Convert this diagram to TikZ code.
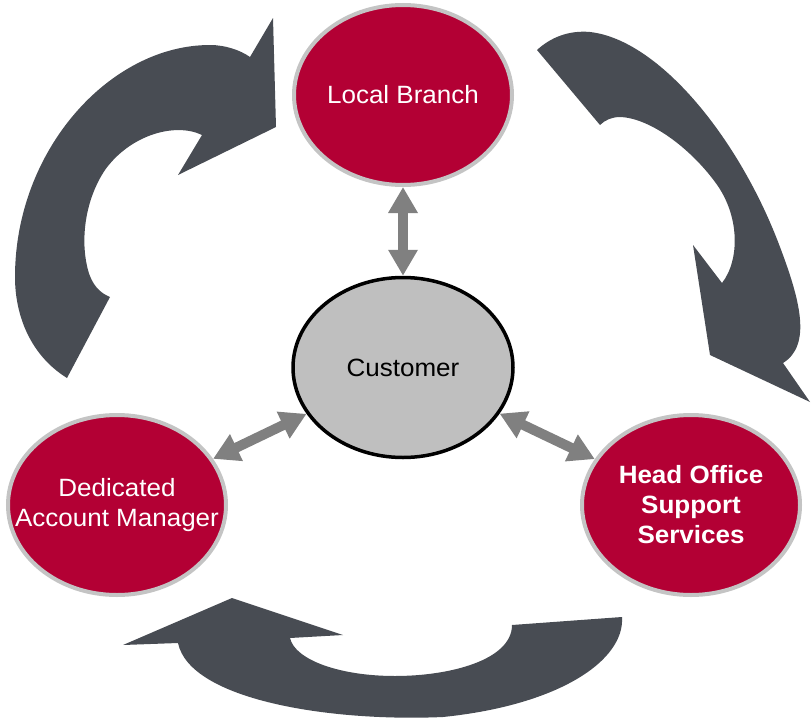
\documentclass[tikz,border=0pt]{standalone}
\usepackage{fontspec}
\setmainfont{Liberation Sans}[FakeStretch=1.04]
\usepackage{tikz}
\usetikzlibrary{shapes.geometric,arrows.meta}

\definecolor{ballred}{HTML}{B30034}
\definecolor{ballrim}{HTML}{C4C4C4}
\definecolor{custgray}{HTML}{BFBFBF}
\definecolor{cyclegray}{HTML}{484C53}
\definecolor{linkgray}{HTML}{808080}

\tikzset{
	redball/.style={ellipse, fill=ballred, draw=ballrim, line width=4pt,
		minimum width=218pt, minimum height=180pt, inner sep=0pt},
	custball/.style={ellipse, fill=custgray, draw=black, line width=3.5pt,
		minimum width=220pt, minimum height=180pt, inner sep=0pt},
	balltext/.style={text=white, align=center, font=\fontsize{25}{30}\selectfont},
	linkarrow/.style={draw=linkgray, line width=10pt,
		{Triangle[width=28pt,length=26pt]}-{Triangle[width=28pt,length=26pt]}},
	cyclearrow/.style={fill=cyclegray}
}

\begin{document}
\begin{tikzpicture}[x=1pt, y=-1pt]
	\useasboundingbox (0,0) rectangle (811,720);

	% Draw big cycle arrows
	% Top left: up to the branch
	\fill[cyclearrow] (67,378) .. controls (30,355) and (15,315) .. (15,277)
		.. controls (15,150) and (110,45) .. (210,45)
		.. controls (225,45) and (240,50) .. (250,57)
		-- (273,18) -- (276,127) -- (178,175) -- (202,135)
		.. controls (175,122) and (130,135) .. (105,170)
		.. controls (85,200) and (80,240) .. (88,270)
		.. controls (92,285) and (100,293) .. (110,297)
		-- cycle;
	% Top right: down to head office
	\fill[cyclearrow] (600,125) -- (537,50)
		.. controls (550,38) and (568,30) .. (590,32)
		.. controls (660,40) and (740,140) .. (780,247)
		.. controls (800,300) and (812,345) .. (783,363)
		-- (810,402) -- (710,355) -- (693,245) -- (722,283)
		.. controls (740,260) and (740,215) .. (715,182)
		.. controls (690,148) and (650,118) .. (620,117)
		.. controls (612,117) and (605,120) .. (600,125)
		-- cycle;
	% Bottom: back to the manager
	\fill[cyclearrow] (178,643) -- (123,645) -- (232,598) -- (343,635) -- (290,638)
		.. controls (295,660) and (340,676) .. (395,676)
		.. controls (450,676) and (512,660) .. (512,625)
		-- (622,617)
		.. controls (625,660) and (560,705) .. (443,717)
		.. controls (330,722) and (190,700) .. (178,643)
		-- cycle;

	% Draw the four parties
	\node[redball] (branch) at (403,95) {};
	\node[balltext] at (branch) {Local Branch};
	\node[custball] (cust) at (403,367.5) {};
	\node[balltext, text=black] at (cust) {Customer};
	\node[redball] (manager) at (117,505) {};
	\node[balltext] at (manager) {Dedicated\\Account Manager};
	\node[redball] (office) at (691,505) {};
	\node[balltext, font=\fontsize{25}{30}\selectfont\bfseries] at (office) {Head Office\\Support\\Services};

	% Links to the customer
	\draw[linkarrow] (cust) -- (branch);
	\draw[linkarrow] (cust) -- (manager);
	\draw[linkarrow] (cust) -- (office);

\end{tikzpicture}
\end{document}
